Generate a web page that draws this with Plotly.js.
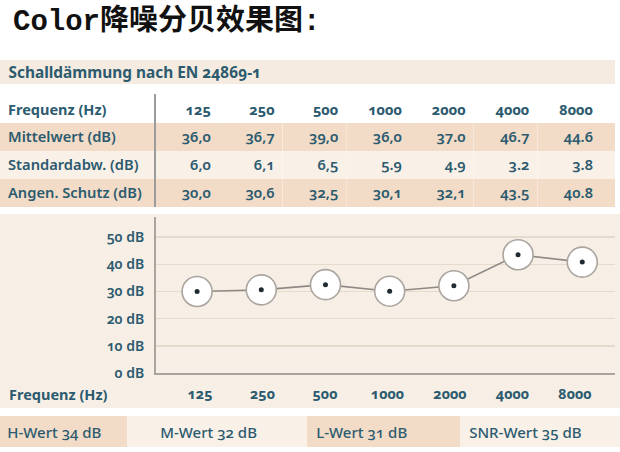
<!DOCTYPE html>
<html>
<head>
<meta charset="utf-8">
<script src="https://cdn.plot.ly/plotly-3.0.1.min.js"></script>
<style>
html,body{margin:0;padding:0;background:#fff;}
#chart{width:620px;height:452px;}
.main-svg text{font-variant-numeric: oldstyle-nums !important;}
</style>
</head>
<body>
<div id="chart"></div>
<script>
// ---- data ----
const frequencies = ['125', '250', '500', '1000', '2000', '4000', '8000'];
const rowLabels = ['Mittelwert (dB)', 'Standardabw. (dB)', 'Angen. Schutz (dB)'];
const mittelwertText = ['36,0', '36,7', '39,0', '36,0', '37.0', '46.7', '44.6'];
const standardabwText = ['6,0', '6,1', '6,5', '5.9', '4.9', '3.2', '3.8'];
const schutzText = ['30,0', '30,6', '32,5', '30,1', '32,1', '43.5', '40.8'];
const schutz = schutzText.map(s => parseFloat(s.replace(',', '.')));
const yTicks = [0, 10, 20, 30, 40, 50];
const yTickText = ['0 dB', '10 dB', '20 dB', '30 dB', '40 dB', '50 dB'];
const summaryLabels = ['H-Wert', 'M-Wert', 'L-Wert', 'SNR-Wert'];
const summaryValues = [34, 32, 31, 35];
const titleText = 'Color降噪分贝效果图:';
const sectionText = 'Schalldämmung nach EN 24869-1';
const axisLabel = 'Frequenz (Hz)';

// ---- styling ----
const W = 620, H = 452;
const py = p => 1 - p / H;
const px = p => p / W;
const teal = '#2c5b6f';
const peach = '#f2dcc8';
const light = '#f9f0e7';
const chartBg = '#f7efe6';
const FONT = "'Noto Sans', 'Open Sans', sans-serif";

// table
const colFills = [];
const rowFills = [peach, light, peach];
for (let c = 0; c < frequencies.length + 2; c++) colFills.push(rowFills);
const cellValues = [rowLabels];
for (let i = 0; i < frequencies.length; i++) {
  cellValues.push([mittelwertText[i], standardabwText[i], schutzText[i]]);
}
cellValues.push(['', '', '']);
const colW = [155.3].concat(frequencies.map(() => 63.7)).concat([14]);

const table = {
  type: 'table',
  domain: {x: [0, px(615)], y: [py(207), py(96)]},
  columnwidth: colW,
  header: {
    values: [axisLabel].concat(frequencies).concat(['']),
    align: ['left'].concat(frequencies.map(() => 'right')).concat(['right']),
    height: 27,
    fill: {color: '#ffffff'},
    line: {width: 0, color: 'rgba(0,0,0,0)'},
    font: {family: FONT, size: 14.5, color: teal, weight: 700}
  },
  cells: {
    values: cellValues,
    align: ['left'].concat(frequencies.map(() => 'right')).concat(['right']),
    height: 28,
    fill: {color: colFills},
    line: {width: 0, color: 'rgba(0,0,0,0)'},
    font: {family: FONT, size: 14.7, color: teal, weight: 600}
  },
  hoverinfo: 'skip'
};

const lineTrace = {
  type: 'scatter', mode: 'lines+markers',
  x: frequencies, y: schutz,
  line: {color: '#8e8984', width: 1.6},
  marker: {size: 30, color: '#ffffff', line: {color: '#aba59f', width: 1.6}},
  hoverinfo: 'skip', cliponaxis: false
};
const dotTrace = {
  type: 'scatter', mode: 'markers',
  x: frequencies, y: schutz,
  marker: {size: 5, color: '#1f2b31'},
  hoverinfo: 'skip', cliponaxis: false
};
const labelTrace = {
  type: 'scatter', mode: 'markers',
  x: frequencies, y: schutz, xaxis: 'x2',
  marker: {size: 1, opacity: 0},
  hoverinfo: 'skip'
};

const shapes = [
  {type: 'rect', xref: 'paper', yref: 'paper', x0: 0, x1: px(615), y0: py(84), y1: py(60), fillcolor: '#f6ebe0', line: {width: 0}, layer: 'below'},
  {type: 'rect', xref: 'paper', yref: 'paper', x0: 0, x1: 1, y0: py(408), y1: py(214), fillcolor: chartBg, line: {width: 0}, layer: 'below'},
  {type: 'line', xref: 'paper', yref: 'paper', x0: px(155), x1: px(155), y0: py(207), y1: py(94), line: {color: '#9c9c9c', width: 2}, layer: 'above'}
];
const cellEdges = [0, 127, 307, 460, 620];
const cellFills = [peach, light, peach, light];
const textX = [5, 158, 314, 467];
const annotations = [
  {xref: 'paper', yref: 'paper', x: px(11), y: py(22), xanchor: 'left', yanchor: 'middle', showarrow: false,
   text: titleText, font: {family: "'Liberation Mono', 'Noto Sans CJK SC', monospace", size: 29, color: '#111111', weight: 700}},
  {xref: 'paper', yref: 'paper', x: px(7), y: py(72), xanchor: 'left', yanchor: 'middle', showarrow: false,
   text: sectionText, font: {family: FONT, size: 15.4, color: teal, weight: 700}},
  {xref: 'paper', yref: 'paper', x: px(7), y: py(394), xanchor: 'left', yanchor: 'middle', showarrow: false,
   text: axisLabel, font: {family: FONT, size: 14.5, color: teal, weight: 700}}
];
for (let i = 0; i < summaryLabels.length; i++) {
  shapes.push({type: 'rect', xref: 'paper', yref: 'paper', x0: px(cellEdges[i]), x1: px(cellEdges[i + 1]),
    y0: py(447), y1: py(416), fillcolor: cellFills[i], line: {width: 0}, layer: 'below'});
  annotations.push({xref: 'paper', yref: 'paper', x: px(textX[i]), y: py(431.5), xanchor: 'left', yanchor: 'middle',
    showarrow: false, text: summaryLabels[i] + ' ' + summaryValues[i] + ' dB',
    font: {family: FONT, size: 15, color: teal, weight: 500}});
}

const layout = {
  width: W, height: H,
  margin: {l: 0, r: 0, t: 0, b: 0, pad: 0},
  paper_bgcolor: '#ffffff',
  plot_bgcolor: 'rgba(0,0,0,0)',
  showlegend: false,
  xaxis: {
    type: 'category', categoryarray: frequencies,
    domain: [px(156), px(615)], range: [-0.64, 6.51],
    showline: true, linecolor: '#aaa49e', linewidth: 2,
    showgrid: false, zeroline: false, showticklabels: false, ticks: '', fixedrange: true
  },
  xaxis2: {
    type: 'category', categoryarray: frequencies, overlaying: 'x', anchor: 'y', side: 'bottom',
    range: [(156 - 200) / 62.5, (615 - 200) / 62.5],
    showline: false, showgrid: false, zeroline: false, ticks: '',
    ticklabelstandoff: 11,
    tickfont: {family: FONT, size: 14.3, color: teal, weight: 700}, fixedrange: true
  },
  yaxis: {
    domain: [py(373), py(217)], range: [0, 57.4],
    tickmode: 'array', tickvals: yTicks, ticktext: yTickText,
    showline: true, linecolor: '#aaa49e', linewidth: 2,
    showgrid: true, gridcolor: '#e6dacd', gridwidth: 1.5,
    zeroline: false, ticks: '', ticklabelstandoff: 7,
    tickfont: {family: FONT, size: 14, color: teal, weight: 600}, fixedrange: true
  },
  shapes: shapes,
  annotations: annotations
};

Plotly.newPlot('chart', [table, lineTrace, dotTrace, labelTrace], layout, {displayModeBar: false, staticPlot: true});
</script>
</body>
</html>
